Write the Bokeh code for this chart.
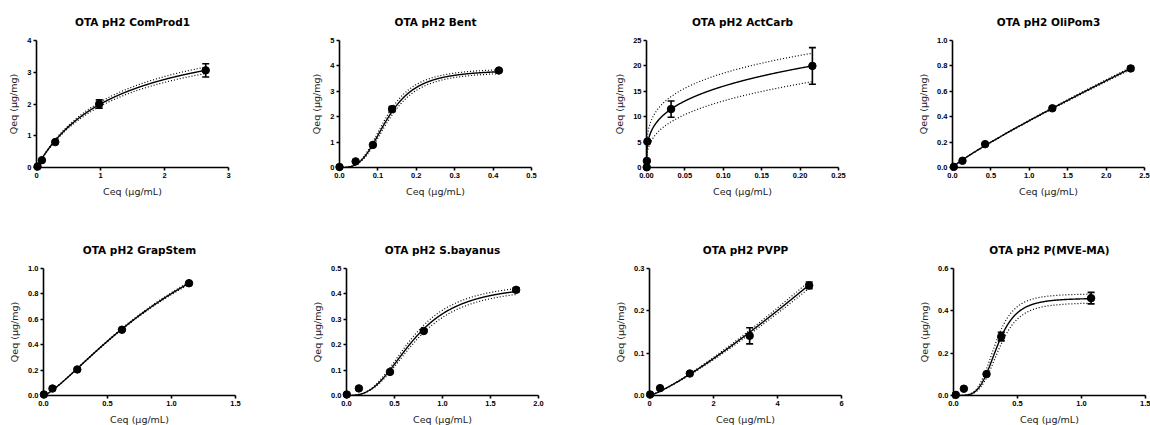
import numpy as np
from bokeh.plotting import figure
from bokeh.models import (ColumnDataSource, Range1d, FixedTicker, Whisker, TeeHead,
                          NumeralTickFormatter)
from bokeh.layouts import column, row
from bokeh.embed import file_html
from bokeh.resources import INLINE

# ---------------- data ----------------
titles = ["OTA pH2 ComProd1", "OTA pH2 Bent", "OTA pH2 ActCarb", "OTA pH2 OliPom3",
          "OTA pH2 GrapStem", "OTA pH2 S.bayanus", "OTA pH2 PVPP", "OTA pH2 P(MVE-MA)"]
x_label = "Ceq (µg/mL)"
y_label = "Qeq (µg/mg)"

comprod1_ceq = [0.016, 0.084, 0.293, 0.98, 2.644]
comprod1_qeq = [0.03, 0.23, 0.80, 2.00, 3.06]
comprod1_err = [0, 0, 0, 0.13, 0.21]

bent_ceq = [0.0, 0.042, 0.087, 0.137, 0.415]
bent_qeq = [0.02, 0.24, 0.89, 2.30, 3.82]
bent_err = [0, 0, 0, 0.10, 0.04]

actcarb_ceq = [0.0003, 0.0005, 0.0012, 0.032, 0.216]
actcarb_qeq = [0.05, 1.3, 5.1, 11.5, 20.0]
actcarb_err = [0, 0, 0, 1.6, 3.6]

olipom3_ceq = [0.017, 0.13, 0.425, 1.30, 2.32]
olipom3_qeq = [0.005, 0.053, 0.184, 0.466, 0.78]
olipom3_err = [0, 0, 0, 0, 0.015]

grapstem_ceq = [0.003, 0.07, 0.264, 0.613, 1.137]
grapstem_qeq = [0.008, 0.055, 0.205, 0.518, 0.884]
grapstem_err = [0, 0, 0, 0, 0]

sbayanus_ceq = [0.003, 0.129, 0.453, 0.805, 1.767]
sbayanus_qeq = [0.004, 0.028, 0.093, 0.254, 0.416]
sbayanus_err = [0, 0, 0, 0, 0.008]

pvpp_ceq = [0.02, 0.33, 1.26, 3.13, 4.99]
pvpp_qeq = [0.0024, 0.0174, 0.052, 0.141, 0.26]
pvpp_err = [0, 0, 0, 0.019, 0.008]

pmvema_ceq = [0.018, 0.081, 0.258, 0.373, 1.075]
pmvema_qeq = [0.003, 0.032, 0.101, 0.278, 0.460]
pmvema_err = [0, 0, 0, 0.02, 0.027]

all_ceq = [comprod1_ceq, bent_ceq, actcarb_ceq, olipom3_ceq, grapstem_ceq, sbayanus_ceq, pvpp_ceq, pmvema_ceq]
all_qeq = [comprod1_qeq, bent_qeq, actcarb_qeq, olipom3_qeq, grapstem_qeq, sbayanus_qeq, pvpp_qeq, pmvema_qeq]
all_err = [comprod1_err, bent_err, actcarb_err, olipom3_err, grapstem_err, sbayanus_err, pvpp_err, pmvema_err]

# fitted isotherm models (estimated parameters)
fit_models = ["hill", "hill", "freundlich", "freundlich", "hill", "hill", "freundlich", "hill"]
fit_params = [(4.52, 1.26, 1.0), (3.85, 0.125, 3.2), (31.2, 0.29), (0.369, 0.889),
              (2.0, 1.36, 1.3), (0.44, 0.70, 2.8), (0.038, 1.2), (0.46, 0.34, 4.5)]
band_upper = [(4.67, 1.26, 1.0), (3.92, 0.121, 3.2), (33.0, 0.25), (0.373, 0.889),
              (2.02, 1.36, 1.3), (0.45, 0.68, 2.8), (0.0392, 1.2), (0.481, 0.325, 4.5)]
band_lower = [(4.37, 1.26, 1.0), (3.78, 0.129, 3.2), (28.0, 0.33), (0.365, 0.889),
              (1.98, 1.36, 1.3), (0.43, 0.72, 2.8), (0.0368, 1.2), (0.439, 0.355, 4.5)]

x_max = [3, 0.5, 0.25, 2.5, 1.5, 2.0, 6, 1.5]
y_max = [4, 5, 25, 1.0, 1.0, 0.5, 0.3, 0.6]

x_ticks = [[0, 1, 2, 3], [0, 0.1, 0.2, 0.3, 0.4, 0.5], [0, 0.05, 0.1, 0.15, 0.2, 0.25],
           [0, 0.5, 1.0, 1.5, 2.0, 2.5], [0, 0.5, 1.0, 1.5], [0, 0.5, 1.0, 1.5, 2.0],
           [0, 2, 4, 6], [0, 0.5, 1.0, 1.5]]
x_tick_format = ["0", "0.0", "0.00", "0.0", "0.0", "0.0", "0", "0.0"]
y_ticks = [[0, 1, 2, 3, 4], [0, 1, 2, 3, 4, 5], [0, 5, 10, 15, 20, 25],
           [0, 0.2, 0.4, 0.6, 0.8, 1.0], [0, 0.2, 0.4, 0.6, 0.8, 1.0],
           [0, 0.1, 0.2, 0.3, 0.4, 0.5], [0, 0.1, 0.2, 0.3], [0, 0.2, 0.4, 0.6]]
y_tick_format = ["0", "0", "0", "0.0", "0.0", "0.0", "0.0", "0.0"]


def model(kind, params, c):
    if kind == "hill":
        b, k, h = params
        return b * c ** h / (k ** h + c ** h)
    kf, m = params
    return kf * c ** m


# ---------------- layout ----------------
AW, AH = 192, 127
row_starts = [0, 287, 575, 860, 1150]
axis_left = [[36, 339, 646, 952], [43, 346, 649, 953]]
row_heights = [228, 197]
axis_top = 40

figs = []
for i in range(8):
    r, c = divmod(i, 4)
    xm, ym = x_max[i], y_max[i]
    left = axis_left[r][c] - row_starts[c]
    right = row_starts[c + 1] - (axis_left[r][c] + AW)
    bottom = row_heights[r] - axis_top - AH
    p = figure(frame_width=AW, frame_height=AH,
               x_range=Range1d(0, xm), y_range=Range1d(0, ym),
               min_border_left=left, min_border_right=max(right, 0),
               min_border_top=axis_top, min_border_bottom=bottom,
               output_backend="svg", toolbar_location=None, title=titles[i])
    p.outline_line_color = None
    p.xgrid.visible = False
    p.ygrid.visible = False
    p.background_fill_color = "white"
    p.border_fill_color = "white"

    p.title.align = "center"
    p.title.text_font = "DejaVu Sans"
    p.title.text_font_style = "bold"
    p.title.text_font_size = "10.5px"
    p.title.text_color = "black"
    p.title.standoff = 26

    for ax, tks, fmt, lab in ((p.xaxis[0], x_ticks[i], x_tick_format[i], x_label),
                              (p.yaxis[0], y_ticks[i], y_tick_format[i], y_label)):
        ax.ticker = FixedTicker(ticks=tks, minor_ticks=[])
        ax.formatter = NumeralTickFormatter(format=fmt)
        ax.axis_line_width = 1.6
        ax.axis_line_color = "black"
        ax.major_tick_line_width = 1.6
        ax.major_tick_line_color = "black"
        ax.major_tick_out = 3
        ax.major_tick_in = 0
        ax.minor_tick_out = 0
        ax.minor_tick_in = 0
        ax.major_label_text_font = "Liberation Sans"
        ax.major_label_text_font_style = "bold"
        ax.major_label_text_font_size = "7.5px"
        ax.major_label_text_color = "black"
        ax.major_label_standoff = 2
        ax.axis_label = lab
        ax.axis_label_text_font = "DejaVu Sans"
        ax.axis_label_text_font_style = "normal"
        ax.axis_label_text_font_size = "9.5px"
        ax.axis_label_text_color = "#222222"
    p.xaxis[0].axis_label_standoff = 5
    p.yaxis[0].axis_label_standoff = 5
    p.yaxis[0].major_label_orientation = "horizontal"

    xs = np.linspace(0, max(all_ceq[i]), 400)
    p.line(xs, model(fit_models[i], band_upper[i], xs), line_color="black",
           line_width=1.2, line_dash="1 2")
    p.line(xs, model(fit_models[i], band_lower[i], xs), line_color="black",
           line_width=1.2, line_dash="1 2")
    p.line(xs, model(fit_models[i], fit_params[i], xs), line_color="black", line_width=1.4)

    ce, qe, er = all_ceq[i], all_qeq[i], all_err[i]
    eb = [(a, b - e, b + e) for a, b, e in zip(ce, qe, er) if e > 0]
    if eb:
        src = ColumnDataSource(dict(x=[t[0] for t in eb], lower=[t[1] for t in eb],
                                    upper=[t[2] for t in eb]))
        w = Whisker(source=src, base="x", lower="lower", upper="upper", dimension="height",
                    line_color="black", line_width=1.6, level="overlay",
                    upper_head=TeeHead(size=7, line_width=1.6, line_color="black"),
                    lower_head=TeeHead(size=7, line_width=1.6, line_color="black"))
        p.add_layout(w)
    p.scatter(ce, qe, size=7.5, marker="circle", fill_color="black", line_color="black",
              level="overlay")
    figs.append(p)

layout = column(row(*figs[:4]), row(*figs[4:]))
open("out.html", "w").write(file_html(layout, INLINE))
